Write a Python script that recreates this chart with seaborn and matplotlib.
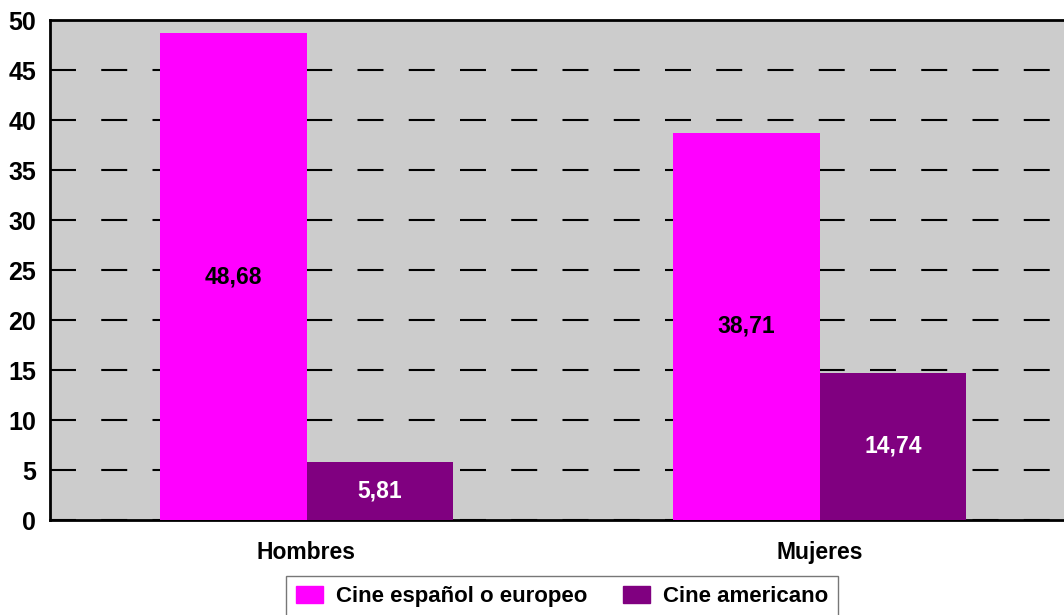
import pandas as pd
import matplotlib.pyplot as plt
import seaborn as sns

grupos = ["Hombres", "Mujeres"]
cine_europeo = [48.68, 38.71]
cine_americano = [5.81, 14.74]
series = ["Cine español o europeo", "Cine americano"]
etiquetas_y = [0, 5, 10, 15, 20, 25, 30, 35, 40, 45, 50]

df = pd.DataFrame({
    "grupo": grupos * 2,
    "serie": [series[0]] * 2 + [series[1]] * 2,
    "valor": cine_europeo + cine_americano,
})

sns.set_style("white")
plt.rcParams["font.family"] = ["Liberation Sans", "DejaVu Sans"]
plt.rcParams["font.weight"] = "bold"
plt.rcParams["text.color"] = "black"
plt.rcParams["lines.scale_dashes"] = False

fig = plt.figure(figsize=(10.64, 6.15), dpi=100)
ax = fig.add_axes([50 / 1064, 95 / 615, 1026 / 1064, 500 / 615])
ax.set_facecolor("#cccccc")

sns.barplot(data=df, x="grupo", y="valor", hue="serie",
            palette=["#ff00ff", "#800080"], width=0.573, gap=0,
            saturation=1, linewidth=0, ax=ax, zorder=3, legend=True)

ax.set_xlim(-0.5, 1.5)
ax.set_ylim(0, 50)
ax.set_yticks(etiquetas_y)
ax.set_yticklabels([str(v) for v in etiquetas_y], fontsize=18, fontweight="bold", color="black")
ax.set_xticks([0, 1])
ax.set_xticklabels(grupos, fontsize=16.5, fontweight="bold", color="black")
ax.set_xticks([-0.5, 0.5, 1.5], minor=True)
ax.tick_params(axis="x", which="major", length=0, pad=15)
ax.tick_params(axis="x", which="minor", length=7, width=1, direction="out", color="#555555")
ax.tick_params(axis="y", length=8, width=1.5, direction="out", color="black", pad=2)
ax.set_xlabel("")
ax.set_ylabel("")

ax.yaxis.grid(True, color="black", linewidth=1.5, linestyle=(0, (18.7, 18.2)), zorder=1)
ax.set_axisbelow(True)
for s in ["left", "top", "bottom"]:
    ax.spines[s].set_visible(True)
    ax.spines[s].set_color("black")
    ax.spines[s].set_linewidth(2)
ax.spines["right"].set_visible(False)

for cont, col in zip(ax.containers, ["black", "white"]):
    ax.bar_label(cont, labels=[f"{v:.2f}".replace(".", ",") for v in cont.datavalues],
                 label_type="center", color=col, fontsize=16.5, fontweight="bold")

ax.get_legend().remove()
handles = [plt.Rectangle((0, 0), 1, 1, color=c) for c in ["#ff00ff", "#800080"]]
fig.legend(handles, series, loc="upper center", bbox_to_anchor=(562 / 1064, 50 / 615),
           ncol=2, frameon=True, fancybox=False, edgecolor="#555555",
           handlelength=1.2, handleheight=0.8, handletextpad=0.6, columnspacing=1.6,
           borderpad=0.45, prop={"weight": "bold", "size": 16})

fig.savefig("out.png", dpi=100)
